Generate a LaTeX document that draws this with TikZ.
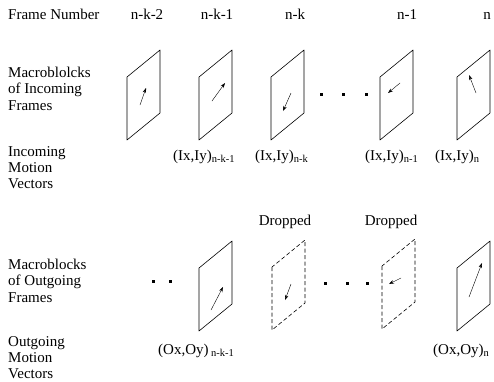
\documentclass[tikz,border=0pt]{standalone}
\usepackage{fontspec}
\setmainfont{Liberation Serif}
\usetikzlibrary{arrows.meta}

\begin{document}
\begin{tikzpicture}[x=1pt,y=-1pt,
    every node/.style={font=\fontsize{15}{16.2}\selectfont, inner sep=0pt},
    lbl/.style={anchor=north west, align=left},
    num/.style={anchor=base},
    mv/.style={-{Stealth[length=5pt,width=3.5pt]}, thin},
    mblock/.style={semithick, line join=round},
    dropped/.style={mblock, dash pattern=on 4pt off 2.5pt}]
    \useasboundingbox (0,0) rectangle (494,381);

    % Header row
    \node[anchor=base west] (fnum) at (8,19) {Frame Number};
    \node[num] (nk2) at (147,19) {n-k-2};
    \node[num] (nk1) at (217,19) {n-k-1};
    \node[num] (nk) at (295,19) {n-k};
    \node[num] (n1) at (407,19) {n-1};
    \node[num] (n) at (487,19) {n};

    % Row titles
    \node[lbl] (inmb) at (8,67) {Macroblolcks\\of Incoming\\Frames};
    \node[lbl] (inmv) at (8,146) {Incoming\\Motion\\Vectors};
    \node[lbl] (outmb) at (8,259) {Macroblocks\\of Outgoing\\Frames};
    \node[lbl] (outmv) at (8,336) {Outgoing\\Motion\\Vectors};

    % Incoming macroblocks (left edge top corner)
    \foreach \x/\name in {127/ia, 199/ib, 271/ic, 380/id, 457/ie} {
        \coordinate (\name) at (\x,77);
        \draw[mblock] (\name) -- ++(0,63) -- ++(33,-27) -- ++(0,-63) -- cycle;
    }

    % Outgoing macroblocks
    \coordinate (ob) at (199,268);
    \coordinate (oc) at (272,267);
    \coordinate (od) at (382,266);
    \coordinate (oe) at (457,268);
    \draw[mblock] (ob) -- ++(0,63) -- ++(33,-27) -- ++(0,-63) -- cycle;
    \draw[dropped] (oc) -- ++(0,63) -- ++(33,-27) -- ++(0,-63) -- cycle;
    \draw[dropped] (od) -- ++(0,63) -- ++(33,-27) -- ++(0,-63) -- cycle;
    \draw[mblock] (oe) -- ++(0,63) -- ++(33,-27) -- ++(0,-63) -- cycle;

    % Motion vectors
    \draw[mv] (140,105) -- (146,88);
    \draw[mv] (212,101) -- (225,83);
    \draw[mv] (291,93) -- (283,111);
    \draw[mv] (400,83) -- (388,93);
    \draw[mv] (476,93) -- (469,75);
    \draw[mv] (211,310) -- (223,287);
    \draw[mv] (291,284) -- (285,300);
    \draw[mv] (401,278) -- (389,284);
    \draw[mv] (469,297) -- (482,263);

    % Dots
    \foreach \x/\y in {321/94, 343/94, 366/94, 325/283, 347/283, 367/283, 153/281, 170/281}
        \fill (\x-1.5,\y-1.5) rectangle ++(3,3);

    % Vector labels
    \node[anchor=base west] (ivb) at (173,160) {(Ix,Iy)\textsubscript{n-k-1}};
    \node[anchor=base west] (ivc) at (255,160) {(Ix,Iy)\textsubscript{n-k}};
    \node[anchor=base west] (ivd) at (365,160) {(Ix,Iy)\textsubscript{n-1}};
    \node[anchor=base west] (ive) at (435,160) {(Ix,Iy)\textsubscript{n}};
    \node[anchor=base west] (ovb) at (158,354) {(Ox,Oy)\,\textsubscript{n-k-1}};
    \node[anchor=base west] (ove) at (433,354) {(Ox,Oy)\textsubscript{n}};

    \node[num] (dropc) at (285,225) {Dropped};
    \node[num] (dropd) at (391,225) {Dropped};

\end{tikzpicture}
\end{document}
